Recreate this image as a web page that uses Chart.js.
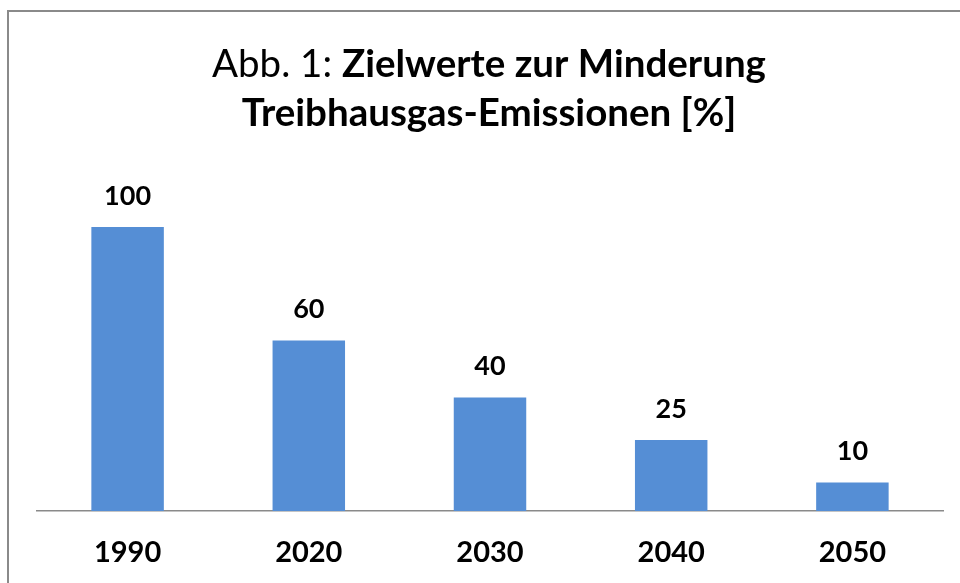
<!DOCTYPE html>
<html>
<head>
<meta charset="utf-8">
<script src="https://cdn.jsdelivr.net/npm/chart.js@4"></script>
<style>
    html, body { margin: 0; padding: 0; background: #fff; }
    #wrap { position: relative; width: 960px; height: 583px; overflow: hidden; }
    #frame { position: absolute; left: 7px; top: 10px; width: 1000px; height: 700px; border: 2px solid #8a8a8a; }
    #c { position: absolute; left: 0; top: 0; }
</style>
</head>
<body>
<div id="wrap">
    <div id="frame"></div>
    <canvas id="c" width="960" height="583"></canvas>
</div>
<script>
var years = ['1990', '2020', '2030', '2040', '2050'];
var values = [100, 60, 40, 25, 10];
var titleLead = 'Abb. 1: ';
var titleBold = 'Zielwerte zur Minderung';
var titleLine2 = 'Treibhausgas-Emissionen [%]';

var fontFam = 'Lato, "Open Sans", sans-serif';

// title with mixed weights, drawn on the canvas
var titlePlugin = {
    id: 'mixedTitle',
    afterDraw: function (chart) {
        var ctx = chart.ctx;
        var cx = 489;
        ctx.save();
        ctx.fillStyle = '#000';
        ctx.textBaseline = 'alphabetic';
        ctx.font = '38.5px ' + fontFam;
        var w1 = ctx.measureText(titleLead).width;
        ctx.font = 'bold 38.5px ' + fontFam;
        var w2 = ctx.measureText(titleBold).width;
        var x = cx - (w1 + w2) / 2;
        ctx.textAlign = 'left';
        ctx.font = '38.5px ' + fontFam;
        ctx.fillText(titleLead, x, 77);
        ctx.font = 'bold 38.5px ' + fontFam;
        ctx.fillText(titleBold, x + w1, 77);
        ctx.textAlign = 'center';
        ctx.fillText(titleLine2, cx, 126);
        ctx.restore();
    }
};

// value labels above the bars
var valueLabels = {
    id: 'valueLabels',
    afterDatasetsDraw: function (chart) {
        var ctx = chart.ctx;
        var meta = chart.getDatasetMeta(0);
        ctx.save();
        ctx.font = 'bold 27px ' + fontFam;
        ctx.fillStyle = '#000';
        ctx.textAlign = 'center';
        ctx.textBaseline = 'middle';
        meta.data.forEach(function (bar, i) {
            ctx.fillText(String(values[i]), bar.x, bar.y - 31);
        });
        ctx.restore();
    }
};

var ctx = document.getElementById('c').getContext('2d');
var chart = new Chart(ctx, {
    type: 'bar',
    data: {
        labels: years,
        datasets: [{
            data: values,
            backgroundColor: '#558ed5',
            borderWidth: 0,
            categoryPercentage: 1,
            barPercentage: 0.4
        }]
    },
    options: {
        responsive: false,
        animation: false,
        layout: { padding: { left: 37, right: 17, top: 227, bottom: 0 } },
        plugins: {
            legend: { display: false },
            title: { display: false },
            tooltip: { enabled: false }
        },
        scales: {
            x: {
                grid: { display: false, drawTicks: false },
                border: { display: true, color: '#8a8a8a', width: 1.5 },
                ticks: {
                    color: '#000',
                    font: { family: fontFam, size: 29, weight: 'bold' },
                    padding: 24
                },
                afterFit: function (scale) { scale.height = 72; }
            },
            y: {
                display: false,
                min: 0,
                max: 100
            }
        }
    },
    plugins: [titlePlugin, valueLabels]
});
</script>
</body>
</html>
